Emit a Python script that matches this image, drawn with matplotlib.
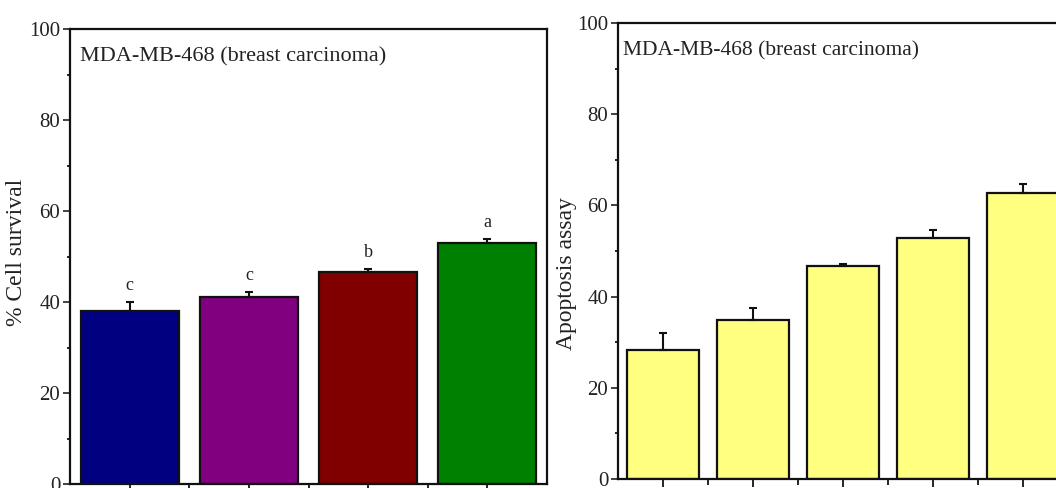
import matplotlib
matplotlib.use("Agg")
import matplotlib.pyplot as plt
from matplotlib.ticker import MultipleLocator, FixedLocator

plt.rcParams['font.family'] = ['Liberation Serif', 'DejaVu Serif']

# Left panel data: % cell survival
survival_vals = [38.0, 41.1, 46.7, 52.9]
survival_err = [2.0, 1.1, 0.6, 0.9]
survival_letters = ['c', 'c', 'b', 'a']
survival_colors = ['#000080', '#800080', '#800000', '#008000']

# Right panel data: apoptosis assay
apop_vals = [28.3, 34.9, 46.7, 52.8, 62.7]
apop_err = [3.7, 2.6, 0.4, 1.8, 2.0]
apop_color = '#FFFF80'

panel_title = 'MDA-MB-468 (breast carcinoma)'
yticks = [0, 20, 40, 60, 80, 100]

fig = plt.figure(figsize=(10.56, 4.88), dpi=100)
ax1 = fig.add_axes([70/1056, 4/488, 477/1056, 455/488])
ax2 = fig.add_axes([618/1056, 9/488, 450.5/1056, 456/488])

def style(ax, n, tx, tsize):
    ax.set_ylim(0, 100)
    ax.set_xlim(0.5, n + 0.5)
    ax.yaxis.set_major_locator(FixedLocator(yticks))
    ax.yaxis.set_minor_locator(MultipleLocator(10))
    ax.xaxis.set_major_locator(FixedLocator(list(range(1, n + 1))))
    ax.xaxis.set_minor_locator(FixedLocator([i + 0.5 for i in range(1, n)]))
    ax.tick_params(axis='y', which='major', direction='out', length=5, width=1.2,
                   labelsize=15, pad=2, colors='#222222')
    ax.tick_params(axis='y', which='minor', direction='out', length=2.5, width=1.2)
    ax.tick_params(axis='x', which='major', direction='out', length=6, width=1.2, labelbottom=False)
    ax.tick_params(axis='x', which='minor', direction='out', length=4, width=1.2)
    for s in ax.spines.values():
        s.set_linewidth(1.6)
        s.set_color('#111111')
    ax.text(tx, 0.939, panel_title, transform=ax.transAxes, fontsize=tsize,
            ha='left', va='center', color='#222222')

x1 = list(range(1, len(survival_vals) + 1))
ax1.bar(x1, survival_vals, width=0.82, color=survival_colors, edgecolor='#111111',
        linewidth=1.6, zorder=2)
ax1.errorbar(x1, survival_vals, yerr=[[0]*len(survival_err), survival_err], fmt='none',
             ecolor='#111111', elinewidth=1.5, capsize=3, capthick=1.5, zorder=3)
for xi, v, e, lab in zip(x1, survival_vals, survival_err, survival_letters):
    ax1.text(xi, v + e + 1.8, lab, ha='center', va='bottom', fontsize=13, color='#222222')
style(ax1, len(survival_vals), 0.021, 16)
ax1.set_ylabel('% Cell survival', fontsize=17, color='#222222')
ax1.yaxis.set_label_coords(-0.09, 0.51)

x2 = list(range(1, len(apop_vals) + 1))
ax2.bar(x2, apop_vals, width=0.8, color=apop_color, edgecolor='#111111',
        linewidth=1.6, zorder=2)
ax2.errorbar(x2, apop_vals, yerr=[[0]*len(apop_err), apop_err], fmt='none',
             ecolor='#111111', elinewidth=1.5, capsize=3, capthick=1.5, zorder=3)
style(ax2, len(apop_vals), 0.011, 15.5)
ax2.set_ylabel('Apoptosis assay', fontsize=17, color='#222222')
ax2.yaxis.set_label_coords(-0.09, 0.45)

fig.savefig('out.png', dpi=100)
